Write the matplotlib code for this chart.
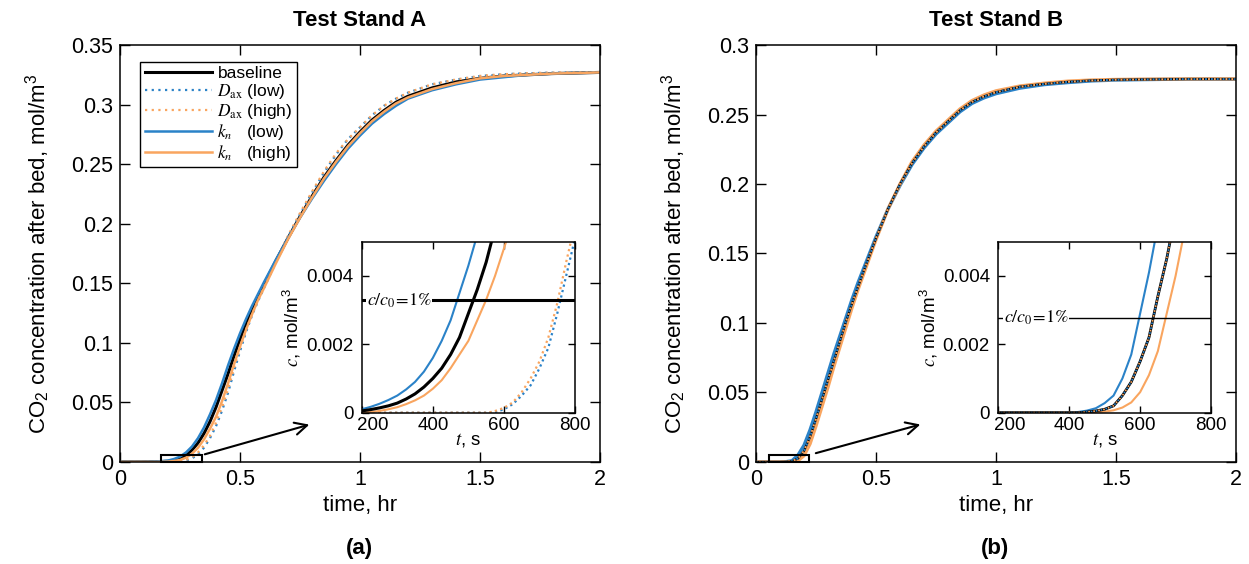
import matplotlib
matplotlib.use("Agg")
import matplotlib.pyplot as plt
from matplotlib.patches import Rectangle
from matplotlib.transforms import ScaledTranslation

plt.rcParams["font.family"] = ["Liberation Sans", "DejaVu Sans"]
plt.rcParams["mathtext.fontset"] = "stix"

BLUE = "#2a82c8"
ORANGE = "#f9a55f"

# ---- Test stand A, main panel (time in hr, c in mol/m3) ----
t_A = [0, 0.1, 0.15, 0.2, 0.225, 0.25, 0.275, 0.3, 0.325, 0.35, 0.375, 0.4, 0.425,
       0.45, 0.475, 0.5, 0.525, 0.55, 0.575, 0.6, 0.65, 0.7, 0.75, 0.8, 0.85, 0.9,
       0.95, 1.0, 1.05, 1.1, 1.15, 1.2, 1.3, 1.4, 1.5, 1.6, 1.7, 1.8, 1.9, 2.0]
base_A = [0, 0, 0.0001, 0.0006, 0.0013, 0.0028, 0.0055, 0.010, 0.016, 0.024, 0.034,
          0.046, 0.060, 0.074, 0.089, 0.103, 0.116, 0.128, 0.139, 0.149, 0.169, 0.188,
          0.206, 0.223, 0.239, 0.253, 0.266, 0.277, 0.287, 0.295, 0.302, 0.307, 0.314,
          0.319, 0.322, 0.324, 0.325, 0.326, 0.3265, 0.327]
daxlow_A = [0, 0, 0, 0, 0.0001, 0.0003, 0.0012, 0.003, 0.0065, 0.012, 0.020, 0.030,
            0.043, 0.058, 0.076, 0.093, 0.109, 0.123, 0.135, 0.146, 0.168, 0.189, 0.208,
            0.226, 0.243, 0.258, 0.271, 0.281, 0.291, 0.299, 0.305, 0.310, 0.317, 0.321,
            0.324, 0.3255, 0.3263, 0.3268, 0.327, 0.3272]
daxhigh_A = [0, 0, 0, 0, 0.0002, 0.0005, 0.0017, 0.004, 0.008, 0.014, 0.022, 0.033,
             0.046, 0.061, 0.079, 0.096, 0.111, 0.124, 0.136, 0.147, 0.169, 0.190, 0.209,
             0.227, 0.244, 0.259, 0.271, 0.281, 0.291, 0.299, 0.305, 0.310, 0.317, 0.321,
             0.324, 0.3255, 0.3263, 0.3268, 0.327, 0.3272]
knlow_A = [0, 0, 0.0003, 0.0012, 0.0025, 0.0045, 0.008, 0.013, 0.020, 0.029, 0.040,
           0.052, 0.066, 0.081, 0.095, 0.108, 0.120, 0.131, 0.141, 0.151, 0.170, 0.188,
           0.205, 0.221, 0.236, 0.250, 0.263, 0.274, 0.284, 0.292, 0.299, 0.305, 0.312,
           0.317, 0.321, 0.323, 0.325, 0.326, 0.3265, 0.327]
knhigh_A = [0, 0, 0, 0.0003, 0.0008, 0.0017, 0.0036, 0.007, 0.012, 0.019, 0.028, 0.038,
            0.051, 0.066, 0.082, 0.097, 0.111, 0.124, 0.136, 0.146, 0.167, 0.187, 0.205,
            0.222, 0.238, 0.252, 0.265, 0.276, 0.286, 0.294, 0.301, 0.306, 0.313, 0.318,
            0.322, 0.324, 0.325, 0.326, 0.3265, 0.327]

# ---- Test stand B, main panel ----
t_B = [0, 0.05, 0.1, 0.125, 0.15, 0.175, 0.2, 0.225, 0.25, 0.275, 0.3, 0.325, 0.35,
       0.375, 0.4, 0.425, 0.45, 0.5, 0.55, 0.6, 0.65, 0.7, 0.75, 0.8, 0.85, 0.9, 0.95,
       1.0, 1.1, 1.2, 1.3, 1.4, 1.5, 1.6, 1.8, 2.0]
base_B = [0, 0, 0, 0.0001, 0.0005, 0.0025, 0.008, 0.018, 0.031, 0.045, 0.059, 0.073,
          0.087, 0.101, 0.114, 0.126, 0.138, 0.161, 0.182, 0.200, 0.215, 0.227, 0.237,
          0.245, 0.253, 0.259, 0.263, 0.266, 0.270, 0.272, 0.2735, 0.2745, 0.275,
          0.2752, 0.2755, 0.2755]
daxlow_B = base_B
daxhigh_B = base_B
knlow_B = [0, 0, 0, 0.0002, 0.0009, 0.005, 0.012, 0.023, 0.036, 0.050, 0.064, 0.078,
           0.091, 0.104, 0.117, 0.129, 0.140, 0.162, 0.182, 0.199, 0.214, 0.226, 0.236,
           0.244, 0.252, 0.258, 0.262, 0.265, 0.269, 0.2715, 0.273, 0.2742, 0.2748,
           0.2751, 0.2755, 0.2755]
knhigh_B = [0, 0, 0, 0, 0.0001, 0.001, 0.0045, 0.013, 0.026, 0.040, 0.054, 0.069,
            0.083, 0.097, 0.111, 0.124, 0.136, 0.160, 0.182, 0.200, 0.216, 0.228, 0.238,
            0.246, 0.254, 0.260, 0.264, 0.267, 0.2705, 0.2725, 0.274, 0.2748, 0.2752,
            0.2754, 0.2756, 0.2756]

# ---- zoomed insets (time in s) ----
ins_A_base_t = [200, 225, 250, 275, 300, 325, 350, 375, 400, 425, 450, 475, 500, 525, 550, 570]
ins_A_base_c = [0.00005, 0.00009, 0.00014, 0.0002, 0.00028, 0.0004, 0.00055, 0.00075,
                0.001, 0.0013, 0.0017, 0.0022, 0.0029, 0.0036, 0.0044, 0.0052]
ins_A_knlow_t = [200, 225, 250, 275, 300, 325, 350, 375, 400, 425, 450, 475, 500, 525]
ins_A_knlow_c = [0.0001, 0.00017, 0.00026, 0.00037, 0.0005, 0.00068, 0.0009, 0.0012,
                 0.0016, 0.0021, 0.0027, 0.0035, 0.0043, 0.0052]
ins_A_knhigh_t = [200, 225, 250, 275, 300, 325, 350, 375, 400, 425, 450, 475, 500, 525,
                  550, 575, 600, 625]
ins_A_knhigh_c = [0.0, 0.00002, 0.00005, 0.0001, 0.00016, 0.00025, 0.00036, 0.0005,
                  0.0007, 0.00095, 0.0013, 0.0017, 0.0021, 0.0027, 0.0033, 0.004, 0.0048, 0.0056]
ins_A_daxlow_t = [200, 560, 580, 600, 625, 650, 675, 700, 725, 750, 775, 800]
ins_A_daxlow_c = [0, 0, 0.00003, 0.0001, 0.00025, 0.0005, 0.0008, 0.0013, 0.0019,
                  0.0029, 0.004, 0.0051]
ins_A_daxhigh_t = [200, 550, 570, 600, 625, 650, 675, 700, 725, 750, 775, 795]
ins_A_daxhigh_c = [0, 0, 0.00003, 0.00014, 0.0003, 0.0006, 0.001, 0.0015, 0.0022,
                   0.0032, 0.0044, 0.0053]

ins_B_base_t = [200, 425, 450, 475, 500, 525, 550, 575, 600, 625, 650, 675, 690]
ins_B_base_c = [0, 0, 0.00002, 0.00005, 0.0001, 0.0002, 0.0005, 0.0009, 0.0015,
                0.0022, 0.0034, 0.0045, 0.0053]
ins_B_knlow_t = [200, 400, 425, 450, 475, 500, 525, 550, 575, 600, 625, 645]
ins_B_knlow_c = [0, 0, 0.00002, 0.00006, 0.00013, 0.00028, 0.0005, 0.001, 0.0017,
                 0.0029, 0.0041, 0.0052]
ins_B_knhigh_t = [200, 460, 475, 500, 525, 550, 575, 600, 625, 650, 675, 700, 725]
ins_B_knhigh_c = [0, 0, 0.00001, 0.00003, 0.00007, 0.00015, 0.0003, 0.0006, 0.0011,
                  0.0018, 0.0029, 0.004, 0.0053]

c0_A = 0.328
c0_B = 0.276

x_ticks = [0, 0.5, 1, 1.5, 2]
x_ticklabels = ["0", "0.5", "1", "1.5", "2"]
yA_ticks = [0, 0.05, 0.1, 0.15, 0.2, 0.25, 0.3, 0.35]
yA_ticklabels = ["0", "0.05", "0.1", "0.15", "0.2", "0.25", "0.3", "0.35"]
yB_ticks = [0, 0.05, 0.1, 0.15, 0.2, 0.25, 0.3]
yB_ticklabels = ["0", "0.05", "0.1", "0.15", "0.2", "0.25", "0.3"]
ins_x_ticks = [200, 400, 600, 800]
ins_y_ticks = [0, 0.002, 0.004]
ins_y_ticklabels = ["0", "0.002", "0.004"]

labels = ["baseline", r"$D_{\rm ax}$ (low)", r"$D_{\rm ax}$ (high)",
          r"$k_n$   (low)", r"$k_n$   (high)"]


def style_main(ax, yticks, yticklabels, ylim):
    ax.set_xlim(0, 2)
    ax.set_ylim(*ylim)
    ax.set_xticks(x_ticks, x_ticklabels)
    ax.set_yticks(yticks, yticklabels)
    ax.tick_params(direction="in", top=True, right=True, length=7, width=1,
                   labelsize=15.5, pad=5)
    for s in ax.spines.values():
        s.set_linewidth(1.1)
    ax.set_xlabel("time, hr", fontsize=16, labelpad=4)
    ax.set_ylabel(r"CO$_\mathregular{2}$ concentration after bed, mol/m$^\mathregular{3}$",
                  fontsize=16, labelpad=14)


def style_inset(ax, c1, lw_line):
    ax.set_xlim(200, 800)
    ax.set_ylim(0, 0.005)
    ax.set_xticks(ins_x_ticks, [str(v) for v in ins_x_ticks])
    ax.set_yticks(ins_y_ticks, ins_y_ticklabels)
    ax.tick_params(direction="in", top=True, right=True, length=5, width=1,
                   labelsize=13.5, pad=3)
    ax.tick_params(axis="y", pad=6)
    # first x label sits just right of the "0" like in the original
    first = ax.get_xticklabels()[0]
    first.set_transform(first.get_transform() + ScaledTranslation(8 / 72, 0, fig.dpi_scale_trans))
    for s in ax.spines.values():
        s.set_linewidth(1.1)
    ax.set_xlabel(r"$t$, s", fontsize=13.5, labelpad=-2)
    ax.set_ylabel(r"$c$, mol/m$^\mathregular{3}$", fontsize=13.5, labelpad=2)
    ax.axhline(c1, color="black", lw=lw_line, zorder=5)
    ax.text(215, c1, r"$c/c_0\!=\!1\%$", fontsize=13, va="center", ha="left",
            zorder=6, bbox=dict(facecolor="white", edgecolor="none", pad=0.5))


fig = plt.figure(figsize=(12.49, 5.64), dpi=100)

# ---------------- panel A ----------------
axA = fig.add_axes([0.0961, 0.1809, 0.3843, 0.7393])
axA.plot(t_A, base_A, color="black", lw=2.2, label=labels[0])
axA.plot(t_A, daxlow_A, color=BLUE, lw=1.6, ls=(0, (1, 2)), label=labels[1])
axA.plot(t_A, daxhigh_A, color=ORANGE, lw=1.6, ls=(0, (1, 2)), label=labels[2])
axA.plot(t_A, knlow_A, color=BLUE, lw=1.8, label=labels[3])
axA.plot(t_A, knhigh_A, color=ORANGE, lw=1.8, label=labels[4])
style_main(axA, yA_ticks, yA_ticklabels, (0, 0.35))
axA.set_title("Test Stand A", fontsize=16, fontweight="bold", pad=14)
leg = axA.legend(loc="upper left", bbox_to_anchor=(0.042, 0.96), borderaxespad=0,
                 fontsize=12.5, handlelength=3.9, labelspacing=0.05, handletextpad=0.3,
                 borderpad=0.25, fancybox=False, framealpha=1, edgecolor="black")
leg.get_frame().set_linewidth(1.0)
axA.add_patch(Rectangle((0.17, 0), 0.17, 0.0055, fill=False, ec="black", lw=1.5,
                        clip_on=False, zorder=6))
axA.annotate("", xy=(0.80, 0.032), xytext=(0.342, 0.0058),
             arrowprops=dict(arrowstyle="->", lw=1.5, color="black", mutation_scale=22))

insA = fig.add_axes([0.2896, 0.2683, 0.1708, 0.3032])
insA.plot(ins_A_daxlow_t, ins_A_daxlow_c, color=BLUE, lw=1.6, ls=(0, (1, 1.5)))
insA.plot(ins_A_daxhigh_t, ins_A_daxhigh_c, color=ORANGE, lw=1.6, ls=(0, (1, 1.5)))
insA.plot(ins_A_knlow_t, ins_A_knlow_c, color=BLUE, lw=1.5)
insA.plot(ins_A_knhigh_t, ins_A_knhigh_c, color=ORANGE, lw=1.5)
insA.plot(ins_A_base_t, ins_A_base_c, color="black", lw=2.2)
style_inset(insA, 0.01 * c0_A, 2.2)

# ---------------- panel B ----------------
axB = fig.add_axes([0.6053, 0.1809, 0.3843, 0.7393])
axB.plot(t_B, knlow_B, color=BLUE, lw=2.4)
axB.plot(t_B, knhigh_B, color=ORANGE, lw=2.4)
axB.plot(t_B, base_B, color="black", lw=1.6)
axB.plot(t_B, daxlow_B, color=BLUE, lw=1.4, ls=(0, (1, 2)))
axB.plot(t_B, daxhigh_B, color=ORANGE, lw=1.4, ls=(1.5, (1, 2)))
style_main(axB, yB_ticks, yB_ticklabels, (0, 0.3))
axB.set_title("Test Stand B", fontsize=16, fontweight="bold", pad=14)
axB.add_patch(Rectangle((0.054, 0), 0.167, 0.005, fill=False, ec="black", lw=1.5,
                        clip_on=False, zorder=6))
axB.annotate("", xy=(0.696, 0.0275), xytext=(0.238, 0.0058),
             arrowprops=dict(arrowstyle="->", lw=1.5, color="black", mutation_scale=22))

insB = fig.add_axes([0.7993, 0.2683, 0.1703, 0.3032])
insB.plot(ins_B_knlow_t, ins_B_knlow_c, color=BLUE, lw=1.5)
insB.plot(ins_B_knhigh_t, ins_B_knhigh_c, color=ORANGE, lw=1.5)
insB.plot(ins_B_base_t, ins_B_base_c, color="black", lw=2.0)
insB.plot(ins_B_base_t, ins_B_base_c, color=ORANGE, lw=1.2, ls=(0, (1, 2)))
insB.plot(ins_B_base_t, ins_B_base_c, color=BLUE, lw=1.2, ls=(1.5, (1, 2)))
style_inset(insB, 0.01 * c0_B, 1.0)

fig.text(0.288, 0.028, "(a)", fontsize=16, fontweight="bold", ha="center", va="center")
fig.text(0.797, 0.028, "(b)", fontsize=16, fontweight="bold", ha="center", va="center")

fig.savefig("out.png", dpi=100)
